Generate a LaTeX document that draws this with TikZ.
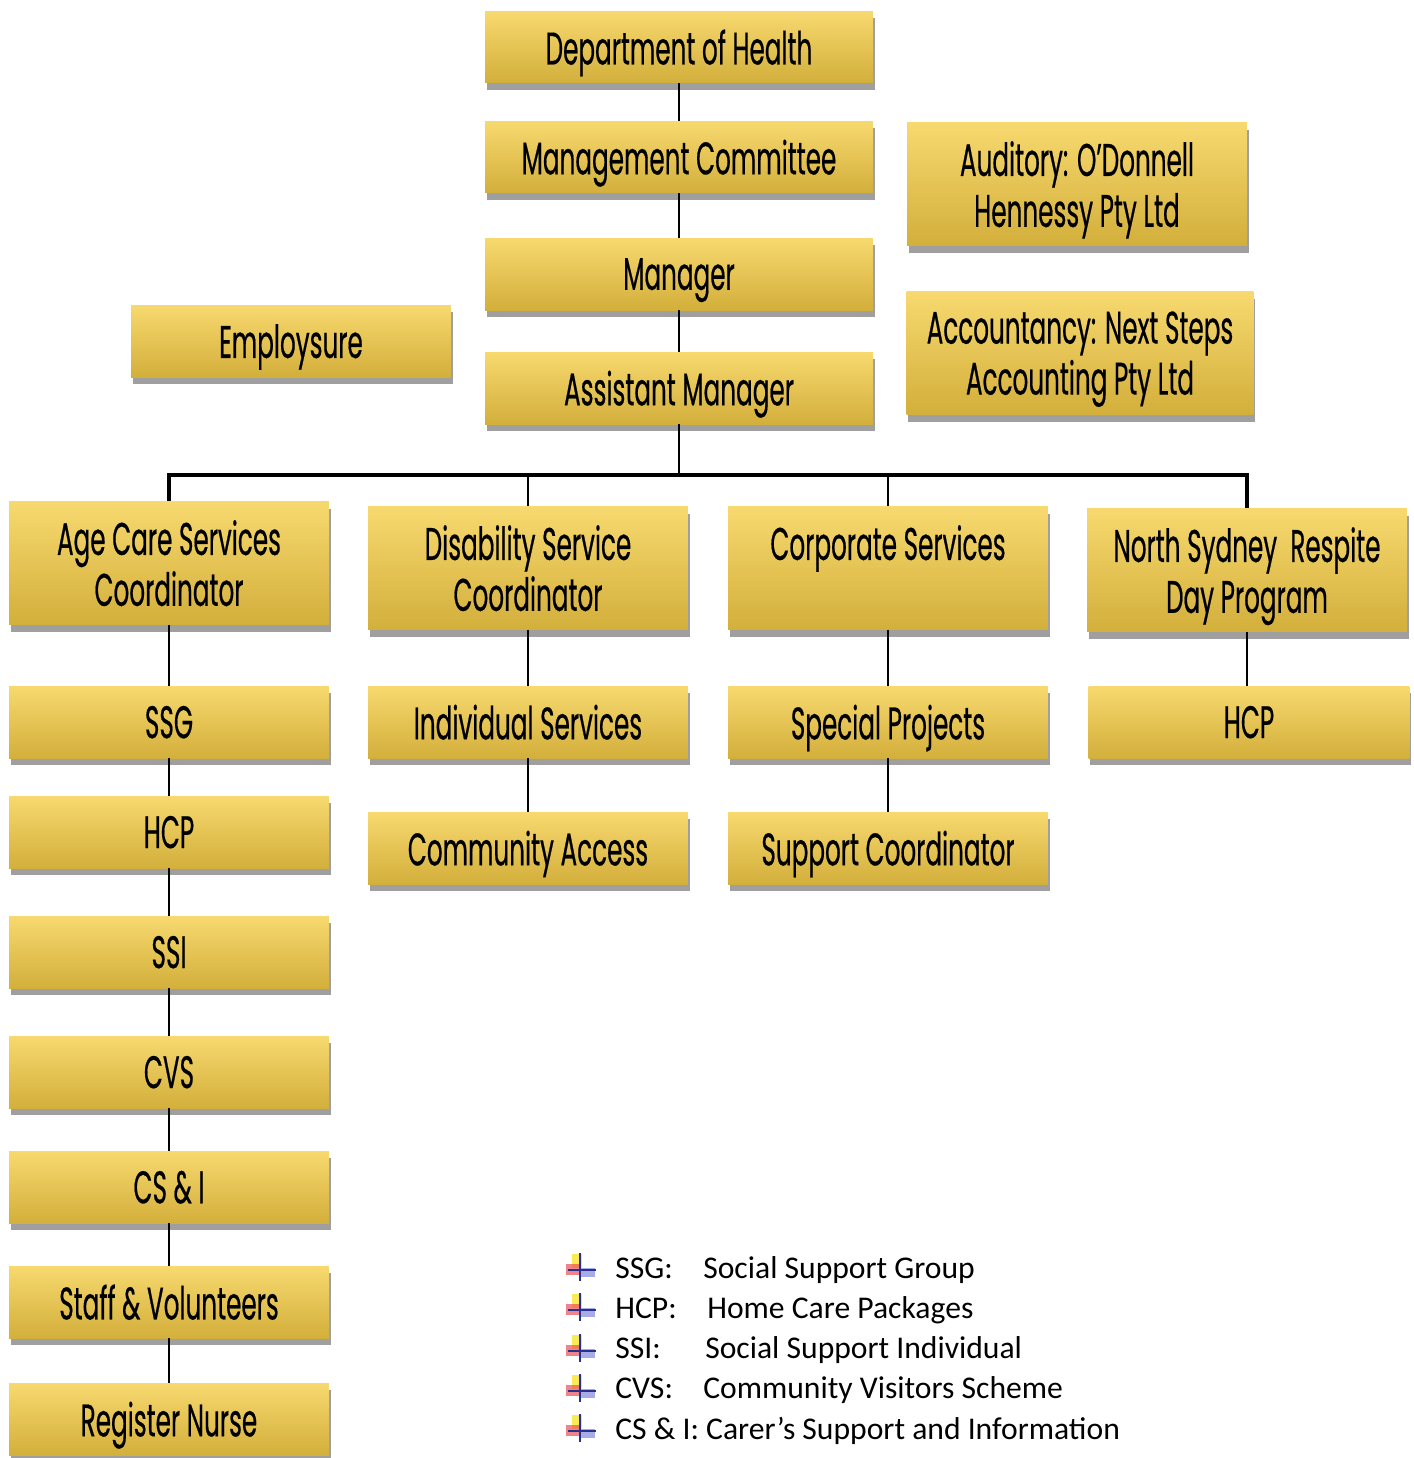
\documentclass[tikz,border=0pt]{standalone}
\usepackage{fontspec}
\setmainfont{Carlito}
\newfontfamily\boxfont[FakeStretch=0.54,FakeBold=0.4]{Poppins}
\usetikzlibrary{positioning,shadows}
\definecolor{goldtop}{HTML}{F7D96F}
\definecolor{goldbottom}{HTML}{D3AF3B}
\definecolor{tipred}{HTML}{E8505A}
\definecolor{tipblue}{HTML}{3C46C8}

\begin{document}
\begin{tikzpicture}[
  x=0.02cm, y=-0.02cm,
  box/.style={top color=goldtop, bottom color=goldbottom, minimum width=6.4cm,
    minimum height=1.44cm, align=center, inner sep=2pt, text depth=0pt,
    font=\boxfont\fontsize{26}{29}\selectfont,
    drop shadow={shadow xshift=1pt, shadow yshift=-4pt, opacity=.5, fill=black!75}},
  tallbox/.style={box, minimum height=2.46cm},
  widebox/.style={box, minimum width=7.76cm},
  link/.style={line width=1.2pt, black},
  bus/.style={line width=1.8pt, black},
  legend/.style={anchor=base west, inner sep=0pt, font=\fontsize{18}{21}\selectfont}
]
  \useasboundingbox (0,0) rectangle (1414,1458);

  % management line
  \node[widebox] (doh) at (679,47) {Department of Health};
  \node[widebox] (mc)  at (679,157) {Management Committee};
  \node[widebox] (mgr) at (679,274) {Manager};
  \node[widebox] (am)  at (679,388) {Assistant Manager};

  % outside services
  \node[box] (emp) at (291,341) {Employsure};
  \node[tallbox, minimum width=6.8cm] (aud) at (1077,184) {Auditory: O’Donnell\\Hennessy Pty Ltd};
  \node[tallbox, minimum width=6.94cm] (acc) at (1080,353) {Accountancy: Next Steps\\Accounting Pty Ltd};

  % programme heads
  \node[tallbox] (acs) at (169,563) {Age Care Services\\Coordinator};
  \node[tallbox] (dsc) at (528,568) {Disability Service\\Coordinator};
  \node[tallbox] (cs)  at (888,568) {Corporate Services\\\mbox{}};
  \node[tallbox] (nsr) at (1247,570) {North Sydney\ \ Respite\\Day Program};

  % programmes
  \node[box] (ssg) at (169,722) {SSG};
  \node[box] (hcp) at (169,832) {HCP};
  \node[box] (ssi) at (169,952) {SSI};
  \node[box] (cvs) at (169,1072) {CVS};
  \node[box] (csi) at (169,1187) {CS \& I};
  \node[box] (sv)  at (169,1302) {Staff \& Volunteers};
  \node[box] (rn)  at (169,1419) {Register Nurse};
  \node[box] (is)  at (528,722) {Individual Services};
  \node[box] (ca)  at (528,848) {Community Access};
  \node[box] (sp)  at (888,722) {Special Projects};
  \node[box] (sc)  at (888,848) {Support Coordinator};
  \node[box, minimum width=6.42cm] (rhcp) at (1249,722) {HCP};

  \coordinate (busmid) at (679,475);

  \foreach \a/\b in {doh/mc, mc/mgr, mgr/am, acs/ssg, ssg/hcp, hcp/ssi, ssi/cvs,
      cvs/csi, csi/sv, sv/rn, dsc/is, is/ca, cs/sp, sp/sc}
    \draw[link] (\a.south) -- (\b.north);
  \draw[link] (nsr.south) -- (nsr.south |- rhcp.north);
  \draw[link] (am.south) -- (busmid);
  \draw[bus] (acs.north) -- (acs.north |- busmid) -- (nsr.north |- busmid) -- (nsr.north);
  \draw[link] (dsc.north |- busmid) -- (dsc.north);
  \draw[link] (cs.north |- busmid) -- (cs.north);

  % legend
  \foreach \t [count=\i from 0] in {
      \makebox[1.76cm][l]{SSG:}Social Support Group,
      \makebox[1.84cm][l]{HCP:}Home Care Packages,
      \makebox[1.8cm][l]{SSI:}Social Support Individual,
      \makebox[1.76cm][l]{CVS:}Community Visitors Scheme,
      CS \& I: Carer’s Support and Information} {
    \pgfmathsetmacro{\yy}{1278+40.3*\i}
    \fill[goldtop!60!yellow, opacity=.9] (572,\yy-24) rectangle (582,\yy-10);
    \fill[tipred, opacity=.7] (566,\yy-14) rectangle (580,\yy-3);
    \fill[tipblue, opacity=.45] (580,\yy-10) rectangle (595,\yy-1);
    \draw[tipblue!70!black, line width=1.2pt] (580,\yy-25) -- (580,\yy+3)
      (568,\yy-8) -- (596,\yy-8);
    \node[legend] (leg\i) at (615,\yy) {\t};
  }
\end{tikzpicture}
\end{document}
